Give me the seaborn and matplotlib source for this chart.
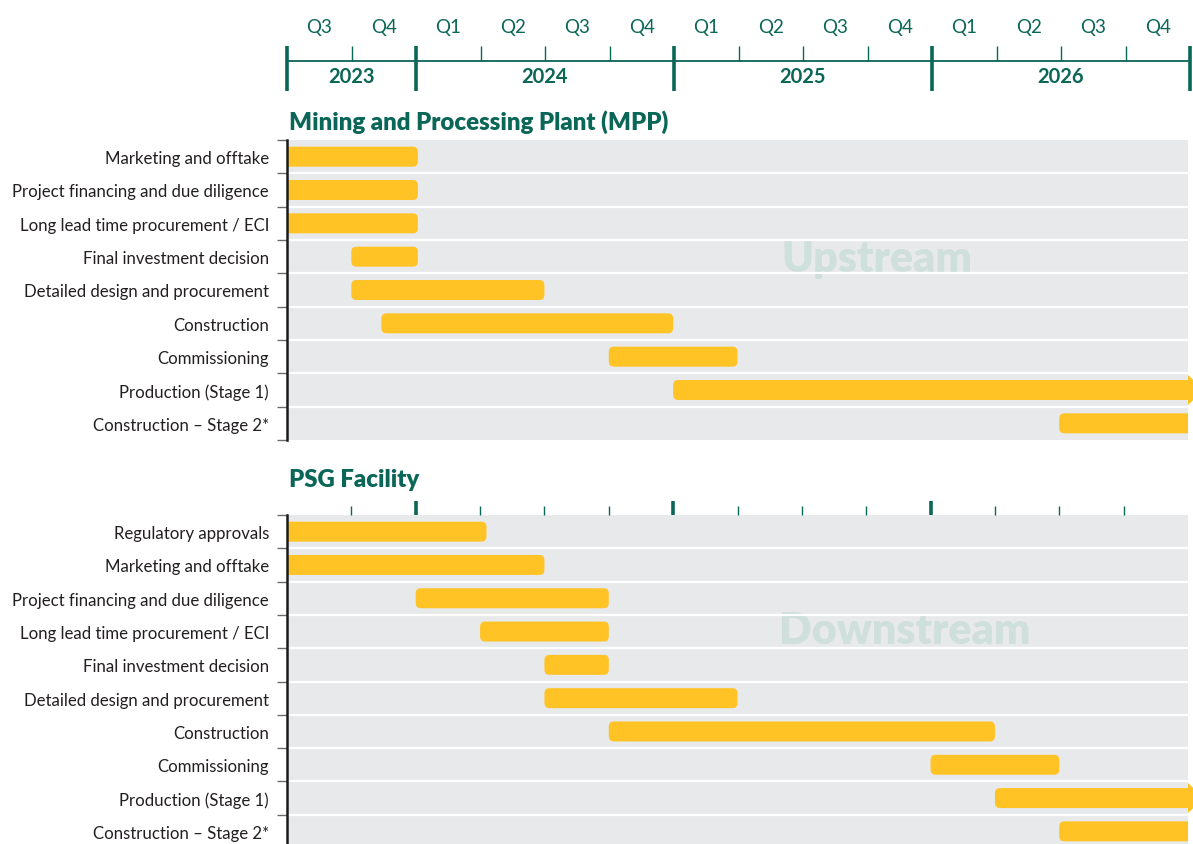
import matplotlib
matplotlib.use("Agg")
import matplotlib.pyplot as plt
from matplotlib.patches import FancyBboxPatch, Polygon
import seaborn as sns
import pandas as pd

# timeline in months from Jul 2023 (Q3 2023) to end of 2026
quarters = ["Q3", "Q4", "Q1", "Q2", "Q3", "Q4", "Q1", "Q2", "Q3", "Q4", "Q1", "Q2", "Q3", "Q4"]
years = ["2023", "2024", "2025", "2026"]
year_starts = [0, 6, 18, 30, 42]

mpp_tasks = ["Marketing and offtake", "Project financing and due diligence",
             "Long lead time procurement / ECI", "Final investment decision",
             "Detailed design and procurement", "Construction", "Commissioning",
             "Production (Stage 1)", "Construction \u2013 Stage 2*"]
mpp_start = [0, 0, 0, 3, 3, 4.4, 15, 18, 36]
mpp_end = [6.1, 6.1, 6.1, 6.1, 12, 18, 21, 42, 42]
mpp_ongoing = [False, False, False, False, False, False, False, True, False]

psg_tasks = ["Regulatory approvals", "Marketing and offtake",
             "Project financing and due diligence", "Long lead time procurement / ECI",
             "Final investment decision", "Detailed design and procurement",
             "Construction", "Commissioning", "Production (Stage 1)",
             "Construction \u2013 Stage 2*"]
psg_start = [0, 0, 6, 9, 12, 12, 15, 30, 33, 36]
psg_end = [9.3, 12, 15, 15, 15, 21, 33, 36, 42, 42]
psg_ongoing = [False, False, False, False, False, False, False, False, True, False]

TEAL = "#0a6657"
YELLOW = "#ffc325"
GREY = "#e8e9eb"
TEXT = "#231f20"
WATER = "#cfdfdc"

sns.set_theme(style="white")
plt.rcParams["font.family"] = ["Lato", "DejaVu Sans"]

W, H = 1193, 845
fig = plt.figure(figsize=(W / 100, H / 100), dpi=100)


def box(left, top, right, bottom):
    return [left / W, 1 - bottom / H, (right - left) / W, (bottom - top) / H]


X0, X1 = 287, 1188
TOTAL = 42

# header timeline
axh = fig.add_axes(box(X0, 47, 1190, 92))
axh.set_xlim(0, TOTAL)
axh.set_ylim(0, 1)
axh.axis("off")
line_y = 30 / 45
axh.plot([0, TOTAL], [line_y, line_y], color=TEAL, lw=1.3, clip_on=False)
axh.vlines(year_starts, 0, 1, color=TEAL, lw=2.6, clip_on=False)
q_bounds = [m for m in range(3, TOTAL, 3) if m not in year_starts]
axh.vlines(q_bounds, line_y, 1, color=TEAL, lw=1.0)
for i, q in enumerate(quarters):
    axh.text(1.5 + 3 * i, 1.44, q, ha="center", va="center", color=TEAL,
             fontsize=13.5, clip_on=False)
for i, y in enumerate(years):
    axh.text((year_starts[i] + year_starts[i + 1]) / 2, 0.33, y, ha="center",
             va="center", color=TEAL, fontsize=14.5, fontweight="bold")


def panel(rect, tasks, starts, ends, ongoing, watermark, wm_pos, top_ticks):
    ax = fig.add_axes(rect)
    df = pd.DataFrame({"task": tasks, "end": ends})
    sns.barplot(data=df, x="end", y="task", ax=ax, color=YELLOW, width=0.6,
                orient="y", saturation=1)
    rects = list(ax.patches)
    for r, s, e, go in zip(rects, starts, ends, ongoing):
        y0, h = r.get_y(), r.get_height()
        r.remove()
        s0 = -0.5 if s == 0 else s
        e0 = e + 0.5 if e >= TOTAL else e
        ax.add_patch(FancyBboxPatch((s0, y0), e0 - s0, h,
                                    boxstyle="round,pad=0,rounding_size=0.24",
                                    mutation_aspect=0.64, fc=YELLOW, ec="none",
                                    zorder=3))
        if go:
            yc = y0 + h / 2
            ax.add_patch(Polygon([(TOTAL, yc - 0.45), (TOTAL + 0.75, yc),
                                  (TOTAL, yc + 0.45)], closed=True, fc=YELLOW,
                                 ec="none", clip_on=False, zorder=3))
    n = len(tasks)
    ax.set_xlim(0, TOTAL)
    ax.set_ylim(n - 0.5, -0.5)
    ax.set_facecolor(GREY)
    for b in range(n - 1):
        ax.axhline(b + 0.5, color="white", lw=1.6, zorder=1)
    ax.set_xlabel("")
    ax.set_ylabel("")
    for sp in ["top", "right", "bottom"]:
        ax.spines[sp].set_visible(False)
    ax.spines["left"].set_color("#1a1a1a")
    ax.spines["left"].set_linewidth(1.8)
    ax.spines["left"].set_zorder(5)
    ax.set_yticks(range(n))
    ax.set_yticklabels(tasks, fontsize=12.1, color=TEXT)
    ax.set_yticks([b - 0.5 for b in range(n + 1)], minor=True)
    ax.tick_params(axis="y", which="major", length=0, pad=13)
    ax.tick_params(axis="y", which="minor", left=True, length=7, width=1,
                   color="#6b6b6b", direction="out")
    if top_ticks:
        ax.set_xticks(year_starts[1:-1])
        ax.set_xticks(q_bounds, minor=True)
        ax.tick_params(axis="x", which="major", bottom=False, top=True,
                       labelbottom=False, length=10, width=2.6, color=TEAL,
                       direction="out")
        ax.tick_params(axis="x", which="minor", bottom=False, top=True,
                       length=6.5, width=1, color=TEAL, direction="out")
    else:
        ax.tick_params(axis="x", which="both", bottom=False, labelbottom=False)
    ax.text(wm_pos[0], wm_pos[1], watermark, ha="center", va="center",
            color=WATER, fontsize=31, fontweight="heavy", zorder=0.5)
    return ax


panel(box(X0, 141, X1, 441), mpp_tasks, mpp_start, mpp_end, mpp_ongoing,
      "Upstream", (27.5, 3.05), False)
panel(box(X0, 516, X1, 849), psg_tasks, psg_start, psg_end, psg_ongoing,
      "Downstream", (28.8, 2.95), True)

fig.text(289 / W, 1 - 122 / H, "Mining and Processing Plant (MPP)", color=TEAL,
         fontsize=17.3, fontweight="heavy", ha="left", va="center")
fig.text(289 / W, 1 - 480 / H, "PSG Facility", color=TEAL,
         fontsize=17.3, fontweight="heavy", ha="left", va="center")

fig.savefig("out.png", dpi=100, facecolor="white")
